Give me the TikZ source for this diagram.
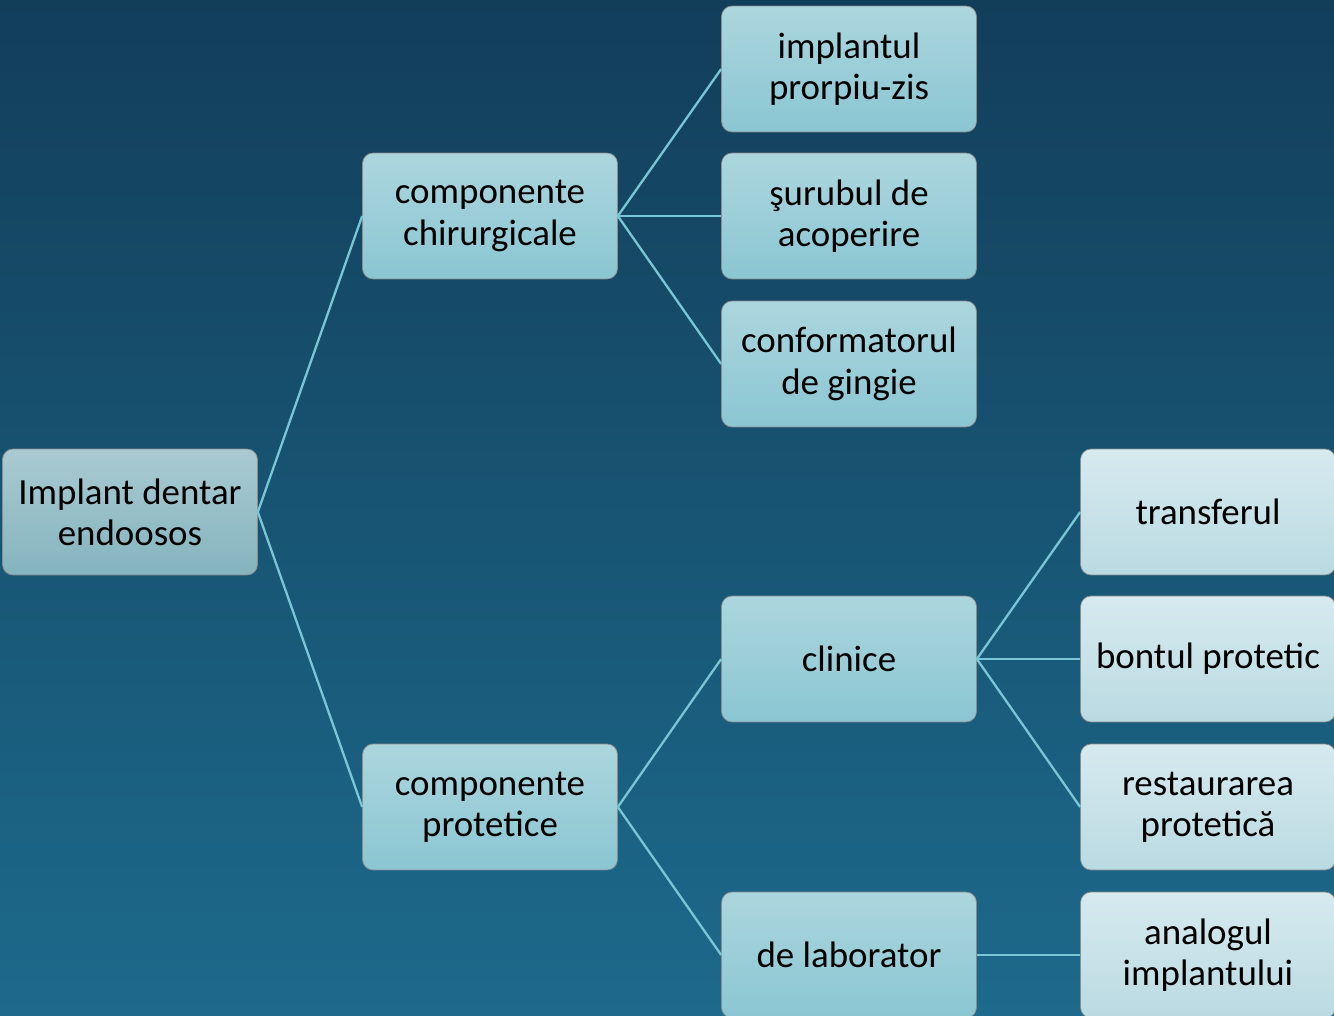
\documentclass[tikz,border=0pt]{standalone}
\usepackage{fontspec}
\setmainfont{Carlito}
\usepackage{xcolor}
\definecolor{bgtop}{RGB}{18,62,90}
\definecolor{bgbot}{RGB}{29,106,140}
\definecolor{roottop}{RGB}{170,202,210}
\definecolor{rootbot}{RGB}{132,180,190}
\definecolor{midtop}{RGB}{172,214,222}
\definecolor{midbot}{RGB}{138,198,210}
\definecolor{leaftop}{RGB}{214,234,239}
\definecolor{leafbot}{RGB}{186,218,226}
\definecolor{link}{RGB}{122,198,214}
\usepackage{tikz}
\usetikzlibrary{positioning,calc}
\tikzset{
  box/.style={draw=black!45,line width=0.4pt,rounded corners=6pt,%
    minimum width=5.1cm,minimum height=2.52cm,text width=5cm,%
    align=flush center,font=\fontsize{21}{23.5}\selectfont,inner sep=0pt},
  rootbox/.style={box,top color=roottop,bottom color=rootbot},
  midbox/.style={box,top color=midtop,bottom color=midbot},
  leafbox/.style={box,top color=leaftop,bottom color=leafbot},
  link/.style={draw=link,line width=1.3pt},
}

\begin{document}
\begin{tikzpicture}[x=0.02cm,y=-0.02cm]
\useasboundingbox (0,0) rectangle (1334,1016);
\shade[top color=bgtop,bottom color=bgbot] (0,0) rectangle (1334,1016);
% level 1
\node[rootbox] (implant) at (130,512) {Implant dentar\\endoosos};
% level 2
\node[midbox] (chir) at (490,216) {componente\\chirurgicale};
\node[midbox] (prot) at (490,807) {componente\\protetice};
% level 3
\node[midbox] (propriu) at (849,69) {implantul\\prorpiu-zis};
\node[midbox] (surub) at (849,216) {şurubul de\\acoperire};
\node[midbox] (conf) at (849,364) {conformatorul\\de gingie};
\node[midbox] (clinice) at (849,659) {clinice};
\node[midbox] (lab) at (849,955) {de laborator};
% level 4
\node[leafbox] (transfer) at (1208,512) {transferul};
\node[leafbox] (bont) at (1208,659) {bontul protetic};
\node[leafbox] (restaur) at (1208,807) {restaurarea\\protetică};
\node[leafbox] (analog) at (1208,955) {analogul\\implantului};
% links
\draw[link] (implant.east) -- (chir.west);
\draw[link] (implant.east) -- (prot.west);
\draw[link] (chir.east) -- (propriu.west);
\draw[link] (chir.east) -- (surub.west);
\draw[link] (chir.east) -- (conf.west);
\draw[link] (prot.east) -- (clinice.west);
\draw[link] (prot.east) -- (lab.west);
\draw[link] (clinice.east) -- (transfer.west);
\draw[link] (clinice.east) -- (bont.west);
\draw[link] (clinice.east) -- (restaur.west);
\draw[link] (lab.east) -- (analog.west);
\end{tikzpicture}
\end{document}
